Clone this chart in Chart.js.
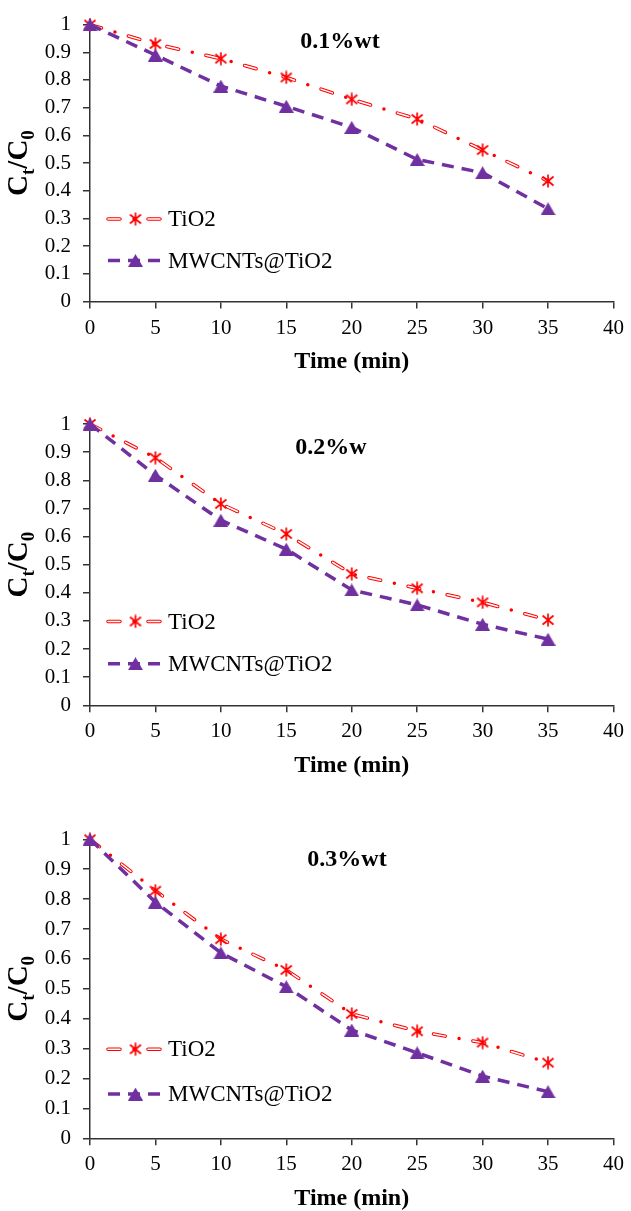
<!DOCTYPE html>
<html>
<head>
<meta charset="utf-8">
<script src="https://cdn.jsdelivr.net/npm/chart.js@4.4.1/dist/chart.umd.min.js"></script>
<style>
  body { margin: 0; background: #fff; width: 631px; height: 1211px; position: relative; overflow: hidden; }
  canvas { position: absolute; left: 0; }
</style>
</head>
<body>
<canvas id="chartA" width="631" height="390" style="top:0px"></canvas>
<canvas id="chartB" width="631" height="410" style="top:390px"></canvas>
<canvas id="chartC" width="631" height="411" style="top:800px"></canvas>
<script>
// photocatalytic degradation, Ct/C0 vs time
const times = [0, 5, 10, 15, 20, 25, 30, 35];
const tio2A = [1, 0.93, 0.877, 0.809, 0.73, 0.659, 0.547, 0.435];
const mwcntA = [1, 0.89, 0.778, 0.705, 0.629, 0.513, 0.465, 0.335];
const tio2B = [1, 0.88, 0.716, 0.609, 0.467, 0.416, 0.366, 0.303];
const mwcntB = [1, 0.818, 0.658, 0.555, 0.41, 0.357, 0.288, 0.235];
const tio2C = [1, 0.828, 0.666, 0.563, 0.416, 0.358, 0.32, 0.253];
const mwcntC = [1, 0.79, 0.62, 0.507, 0.362, 0.286, 0.208, 0.156];
const seriesNames = ['TiO2', 'MWCNTs@TiO2'];
const panelLabels = ['(a)', '(b)', '(c)'];
const panelTitles = ['0.1%wt', '0.2%w', '0.3%wt'];
const xMax = 40, xStep = 5;
const yMax = 1, yStep = 0.1;

const RED = '#ff0000', PURPLE = '#7030a0', AXIS = '#333333';
const SERIF = '"Liberation Serif", "Times New Roman", serif';
const tio2Dash = [12, 14, 0, 14];
const tio2Hollow = [12, 28];
const mwDash = [12, 8];

function makeStar() {
    const c = document.createElement('canvas');
    c.width = 14; c.height = 14;
    const g = c.getContext('2d');
    g.strokeStyle = RED; g.lineWidth = 1.7;
    g.beginPath();
    g.moveTo(7, 0.5); g.lineTo(7, 13.5);
    g.moveTo(1.5, 2.5); g.lineTo(12.5, 11.5);
    g.moveTo(12.5, 2.5); g.lineTo(1.5, 11.5);
    g.stroke();
    return c;
}

function makeTriangle() {
    const c = document.createElement('canvas');
    c.width = 15; c.height = 13;
    const g = c.getContext('2d');
    g.fillStyle = PURPLE;
    g.beginPath();
    g.moveTo(7.5, 0); g.lineTo(15, 13); g.lineTo(0, 13);
    g.closePath();
    g.fill();
    return c;
}

const starImg = makeStar();
const triImg = makeTriangle();

function drawRatioTitle(ctx, x, y) {
    const big = 'bold 29px ' + SERIF, small = 'bold 19px ' + SERIF;
    const parts = [['C', big, 0], ['t', small, 9], ['/', big, 0], ['C', big, 0], ['0', small, 9]];
    ctx.save();
    ctx.translate(x, y);
    ctx.rotate(-Math.PI / 2);
    ctx.textBaseline = 'middle';
    ctx.textAlign = 'left';
    let total = 0;
    parts.forEach(p => { ctx.font = p[1]; total += ctx.measureText(p[0]).width; });
    let cx = -total / 2;
    parts.forEach(p => {
        ctx.font = p[1];
        ctx.fillText(p[0], cx, p[2]);
        cx += ctx.measureText(p[0]).width;
    });
    ctx.restore();
}

function legendLine(ctx, x1, x2, y, color, width, dash, cap) {
    ctx.save();
    ctx.strokeStyle = color;
    ctx.lineWidth = width;
    ctx.lineCap = cap;
    ctx.setLineDash(dash);
    ctx.beginPath();
    ctx.moveTo(x1, y); ctx.lineTo(x2, y);
    ctx.stroke();
    ctx.restore();
}

const decorPlugin = {
    id: 'decor',
    afterDraw(chart, args, opts) {
        const ctx = chart.ctx, area = chart.chartArea;
        const h = area.bottom - area.top;
        ctx.save();
        ctx.fillStyle = '#000';
        ctx.font = 'bold 24px ' + SERIF;
        ctx.textBaseline = 'middle';
        ctx.textAlign = 'left';
        ctx.fillText(opts.label, 7, opts.labelY);
        ctx.textAlign = 'center';
        ctx.fillText(opts.title, opts.titleX, opts.titleY);
        drawRatioTitle(ctx, 20, (area.top + area.bottom) / 2);

        // legend inside plot
        const x1 = 108, x2 = 163, xm = 135.5;
        const y1 = area.top + 0.702 * h, y2 = area.top + 0.852 * h;
        legendLine(ctx, x1, x2, y1, RED, 3.5, tio2Dash, 'round');
        legendLine(ctx, x1, x2, y1, '#fff', 1.5, tio2Hollow, 'round');
        ctx.drawImage(starImg, xm - 7, y1 - 7);
        legendLine(ctx, x1, x2, y2, PURPLE, 3.5, mwDash, 'butt');
        ctx.drawImage(triImg, xm - 7.5, y2 - 6.5);
        ctx.fillStyle = '#000';
        ctx.font = '23px ' + SERIF;
        ctx.textAlign = 'left';
        ctx.fillText(seriesNames[0], 168, y1 + 1);
        ctx.fillText(seriesNames[1], 168, y2 + 1);
        ctx.restore();
    }
};

function toPoints(values) {
    return times.map((t, i) => ({ x: t, y: values[i] }));
}

function buildChart(id, tio2, mwcnt, p) {
    const xHeight = p.canvasH - p.bottom;
    return new Chart(document.getElementById(id), {
        type: 'line',
        data: {
            datasets: [
                {
                    label: seriesNames[1], data: toPoints(mwcnt),
                    borderColor: PURPLE, borderWidth: 3.5, borderDash: mwDash,
                    pointStyle: triImg, pointRadius: 7, clip: false, tension: 0, fill: false
                },
                {
                    label: seriesNames[0] + ' hollow', data: toPoints(tio2),
                    borderColor: '#ffffff', borderWidth: 1.5, borderDash: tio2Hollow, borderCapStyle: 'round',
                    pointStyle: starImg, pointRadius: 7, clip: false, tension: 0, fill: false
                },
                {
                    label: seriesNames[0], data: toPoints(tio2),
                    borderColor: RED, borderWidth: 3.5, borderDash: tio2Dash, borderCapStyle: 'round',
                    pointRadius: 0, clip: false, tension: 0, fill: false
                }
            ]
        },
        options: {
            responsive: false,
            animation: false,
            events: [],
            layout: { padding: { top: p.top, right: 15, left: 0, bottom: 0 } },
            plugins: {
                legend: { display: false },
                tooltip: { enabled: false },
                decor: { label: p.label, title: p.title, titleX: p.titleX, titleY: p.titleY }
            },
            scales: {
                x: {
                    type: 'linear', min: 0, max: xMax,
                    ticks: { stepSize: xStep, color: '#000', font: { family: SERIF, size: 21 }, padding: 7, autoSkip: false, maxRotation: 0 },
                    grid: { drawOnChartArea: false, drawTicks: true, tickLength: 7, color: AXIS, lineWidth: 1.5 },
                    border: { display: true, color: AXIS, width: 1.5 },
                    title: {
                        display: true, text: 'Time (min)', color: '#000',
                        font: { family: SERIF, size: 24, weight: 'bold', lineHeight: 1 },
                        padding: { top: 0, bottom: xHeight - 60 - 12 }
                    },
                    afterFit(scale) { scale.height = xHeight; }
                },
                y: {
                    type: 'linear', min: 0, max: yMax,
                    ticks: {
                        stepSize: yStep, color: '#000', font: { family: SERIF, size: 21 }, padding: 12, autoSkip: false,
                        callback: v => String(Math.round(v * 10) / 10)
                    },
                    grid: { drawOnChartArea: false, drawTicks: true, tickLength: 7, color: AXIS, lineWidth: 1.5 },
                    border: { display: true, color: AXIS, width: 1.5 },
                    afterFit(scale) { scale.width = 90; }
                }
            }
        },
        plugins: [decorPlugin]
    });
}

buildChart('chartA', tio2A, mwcntA, { canvasH: 390, top: 22.5, bottom: 301.5, label: panelLabels[0], labelY: 25, title: panelTitles[0], titleX: 340, titleY: 42 });
buildChart('chartB', tio2B, mwcntB, { canvasH: 410, top: 34, bottom: 315.3, label: panelLabels[1], labelY: 27, title: panelTitles[1], titleX: 331, titleY: 58 });
buildChart('chartC', tio2C, mwcntC, { canvasH: 411, top: 39.3, bottom: 338.3, label: panelLabels[2], labelY: 39, title: panelTitles[2], titleX: 347, titleY: 60 });
</script>
</body>
</html>
